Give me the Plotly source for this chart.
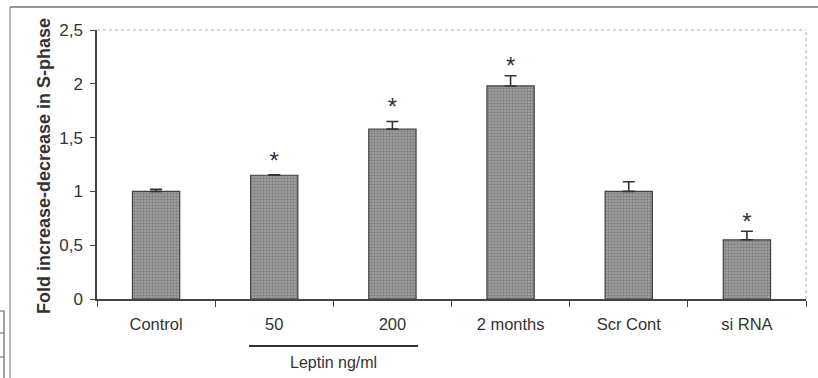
import plotly.graph_objects as go

categories = ["Control", "50", "200", "2 months", "Scr Cont", "si RNA"]
values = [1.0, 1.15, 1.58, 1.98, 1.0, 0.55]
errors = [0.02, 0.005, 0.07, 0.095, 0.09, 0.08]
star_y = [None, 1.26, 1.77, 2.145, None, 0.70]
y_ticks = [0, 0.5, 1, 1.5, 2, 2.5]
y_tick_labels = ["0", "0,5", "1", "1,5", "2", "2,5"]

W, H = 818, 378
L, R, T, B = 97, 12, 30, 79
pw = W - L - R
ph = H - T - B

def px_x(x):
    return (x - L) / pw

def px_y(y):
    return (H - B - y) / ph

fig = go.Figure()
fig.add_trace(go.Bar(
    x=categories, y=values, width=0.4,
    marker=dict(color="#9a9a9a", line=dict(color="#404040", width=1.2),
                pattern=dict(shape=".", fgcolor="#5a5a5a", bgcolor="#a4a4a4", size=3, solidity=0.5)),
    error_y=dict(type="data", array=errors, arrayminus=[0]*len(errors), symmetric=False,
                 color="#333333", thickness=1.6, width=6),
    showlegend=False,
))

sx = [c for c, s in zip(categories, star_y) if s is not None]
sy = [s for s in star_y if s is not None]
fig.add_trace(go.Scatter(x=sx, y=sy, mode="text", text=["*"] * len(sx),
                         textfont=dict(family="Liberation Sans, Arial", size=24, color="#333333"),
                         showlegend=False, hoverinfo="skip"))

fig.update_layout(
    width=W, height=H,
    margin=dict(l=L, r=R, t=T, b=B),
    paper_bgcolor="white", plot_bgcolor="white",
    font=dict(family="Liberation Sans, Arial", color="#333333"),
    bargap=0.6,
)
fig.update_xaxes(
    type="category", tickson="boundaries", ticks="outside", ticklen=6, tickcolor="#444444",
    showline=True, linecolor="#444444", linewidth=1.5, mirror=False,
    tickfont=dict(size=16.5, color="#333333"), showgrid=False, ticklabelstandoff=9,
)
fig.update_yaxes(
    range=[0, 2.5], tickvals=y_ticks, ticktext=y_tick_labels,
    ticks="outside", ticklen=5, tickcolor="#444444",
    showline=True, linecolor="#444444", linewidth=1.5,
    showgrid=False, zeroline=False, tickfont=dict(size=17, color="#333333"),
    ticklabelstandoff=4,
)

shapes = [
    dict(type="line", xref="paper", yref="paper", x0=0, x1=1, y0=1, y1=1,
         line=dict(color="#aaaaaa", width=1, dash="dot")),
    dict(type="line", xref="paper", yref="paper", x0=1, x1=1, y0=0, y1=1,
         line=dict(color="#aaaaaa", width=1, dash="dot")),
    dict(type="line", xref="paper", yref="paper", x0=px_x(10), x1=px_x(818), y0=px_y(7), y1=px_y(7),
         line=dict(color="#777777", width=1.5)),
    dict(type="line", xref="paper", yref="paper", x0=px_x(10), x1=px_x(10), y0=px_y(7), y1=px_y(378),
         line=dict(color="#888888", width=1.2)),
    dict(type="rect", xref="paper", yref="paper", x0=px_x(-2), x1=px_x(4), y0=px_y(311), y1=px_y(380),
         line=dict(color="#666666", width=1.2)),
    dict(type="line", xref="paper", yref="paper", x0=px_x(0), x1=px_x(4), y0=px_y(333), y1=px_y(333),
         line=dict(color="#666666", width=1)),
    dict(type="line", xref="paper", yref="paper", x0=px_x(0), x1=px_x(4), y0=px_y(357), y1=px_y(357),
         line=dict(color="#666666", width=1)),
    dict(type="line", xref="paper", yref="paper", x0=px_x(249), x1=px_x(418), y0=px_y(346), y1=px_y(346),
         line=dict(color="#333333", width=2.2)),
]
fig.update_layout(shapes=shapes)

fig.add_annotation(text="Leptin ng/ml", xref="paper", yref="paper", x=px_x(333), y=px_y(362),
                   showarrow=False, font=dict(size=16, color="#333333"), xanchor="center", yanchor="middle")
fig.add_annotation(text="<b>Fold increase-decrease in S-phase</b>", xref="paper", yref="paper",
                   x=px_x(44), y=px_y(166), textangle=-90, showarrow=False,
                   font=dict(size=18, color="#333333"), xanchor="center", yanchor="middle")

fig.write_html("out.html")
